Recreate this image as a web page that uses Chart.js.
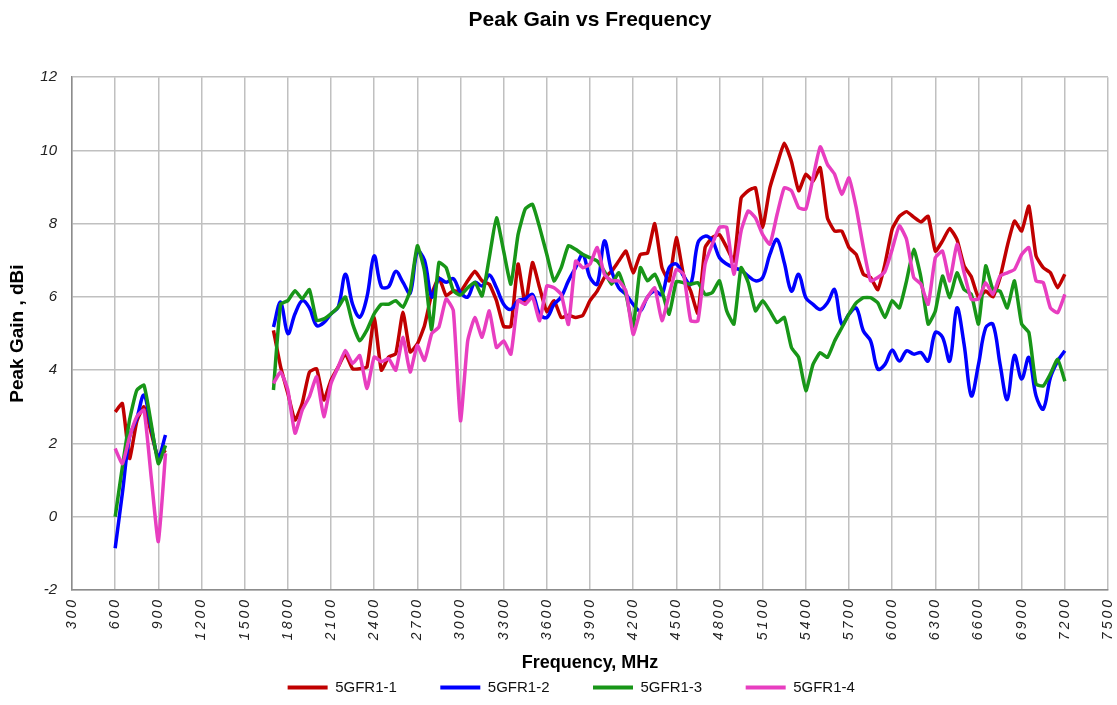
<!DOCTYPE html>
<html>
<head>
<meta charset="utf-8">
<title>Peak Gain vs Frequency</title>
<script src="https://cdn.jsdelivr.net/npm/chart.js@4.4.0/dist/chart.umd.min.js"></script>
<style>
  body { margin: 0; background: #fff; }
  #wrap { width: 1117px; height: 705px; }
</style>
</head>
<body>
<div id="wrap"><canvas id="gainChart" width="1117" height="705"></canvas></div>
<script>
// frequencies, MHz
var lowFreq = [600, 650, 700, 750, 800, 850, 900, 950];
var highFreq = [
    1700, 1750, 1800, 1850, 1900, 1950, 2000, 2050, 2100, 2150, 2200, 2250, 2300, 2350, 2400, 2450, 2500, 2550, 2600, 2650, 2700, 2750, 2800, 2850, 2900, 2950,
    3000, 3050, 3100, 3150, 3200, 3250, 3300, 3350, 3400, 3450, 3500, 3550, 3600, 3650, 3700, 3750, 3800, 3850, 3900, 3950, 4000, 4050, 4100, 4150, 4200, 4250, 4300, 4350, 4400, 4450,
    4500, 4550, 4600, 4650, 4700, 4750, 4800, 4850, 4900, 4950, 5000, 5050, 5100, 5150, 5200, 5250, 5300, 5350, 5400, 5450, 5500, 5550, 5600, 5650, 5700, 5750, 5800, 5850, 5900, 5950,
    6000, 6050, 6100, 6150, 6200, 6250, 6300, 6350, 6400, 6450, 6500, 6550, 6600, 6650, 6700, 6750, 6800, 6850, 6900, 6950, 7000, 7050, 7100, 7150, 7200
];

// peak gain, dBi
var gain1Low = [2.86, 3.09, 1.59, 2.6, 3.0, 2.3, 1.6, 1.82];
var gain2Low = [-0.86, 0.64, 2.18, 2.68, 3.32, 2.45, 1.64, 2.23];
var gain3Low = [0.0, 1.36, 2.64, 3.45, 3.59, 2.55, 1.45, 1.95];
var gain4Low = [1.86, 1.45, 2.18, 2.73, 2.91, 1.1, -0.68, 1.73];

var gain1High = [
    5.09, 4.09, 3.37, 2.64, 3.1, 3.95, 4.04, 3.19, 3.73, 4.09, 4.45, 4.04, 4.04, 4.09, 5.45, 4.0, 4.36, 4.45, 5.58, 4.5, 4.72, 5.22, 6.08, 6.53, 6.04, 6.17,
    6.15, 6.44, 6.7, 6.44, 6.35, 5.9, 5.2, 5.2, 6.9, 5.8, 6.94, 6.25, 5.6, 5.9, 5.44, 5.5, 5.44, 5.5, 5.9, 6.16, 6.53, 6.7, 6.98, 7.25, 6.66, 7.16, 7.2, 8.0, 6.8, 6.44,
    7.62, 6.6, 6.16, 5.55, 7.35, 7.62, 7.7, 7.35, 6.98, 8.7, 8.9, 8.98, 7.9, 8.98, 9.62, 10.2, 9.7, 8.9, 9.35, 9.16, 9.53, 8.16, 7.8, 7.8, 7.35, 7.16, 6.62, 6.53, 6.2, 6.9,
    7.85, 8.2, 8.33, 8.18, 8.05, 8.2, 7.25, 7.53, 7.87, 7.57, 6.85, 6.55, 5.98, 6.16, 6.0, 6.53, 7.39, 8.07, 7.8, 8.48, 7.12, 6.8, 6.66, 6.25, 6.62
];
var gain2High = [
    5.18, 5.86, 5.0, 5.54, 5.9, 5.7, 5.22, 5.3, 5.54, 5.72, 6.62, 5.8, 5.45, 6.0, 7.12, 6.28, 6.28, 6.7, 6.4, 6.1, 7.25, 7.0, 6.0, 6.5, 6.4, 6.5,
    6.12, 6.0, 6.4, 6.3, 6.6, 6.25, 5.8, 5.66, 5.9, 5.95, 6.07, 5.53, 5.44, 5.8, 6.0, 6.44, 6.8, 7.16, 6.53, 6.35, 7.53, 6.7, 6.25, 6.07, 5.8, 5.62, 6.0, 6.16, 6.07, 6.8,
    6.9, 6.57, 6.35, 7.48, 7.66, 7.55, 7.07, 6.9, 6.8, 6.73, 6.57, 6.44, 6.53, 7.16, 7.57, 6.94, 6.16, 6.62, 5.98, 5.8, 5.66, 5.84, 6.2, 5.25, 5.53, 5.7, 5.07, 4.8, 4.03, 4.16,
    4.55, 4.25, 4.53, 4.44, 4.48, 4.25, 5.03, 4.9, 4.25, 5.7, 4.7, 3.3, 4.16, 5.16, 5.26, 4.16, 3.2, 4.4, 3.76, 4.35, 3.3, 2.94, 3.8, 4.25, 4.53
];
var gain3High = [
    3.46, 5.8, 5.9, 6.17, 5.95, 6.2, 5.36, 5.4, 5.54, 5.72, 6.0, 5.27, 4.8, 5.1, 5.54, 5.8, 5.8, 5.9, 5.72, 6.17, 7.4, 6.7, 5.1, 6.94, 6.8, 6.17,
    6.05, 6.25, 6.4, 6.03, 7.07, 8.16, 7.25, 6.35, 7.7, 8.4, 8.53, 7.9, 7.16, 6.44, 6.8, 7.4, 7.3, 7.16, 7.07, 6.98, 6.7, 6.35, 6.66, 6.07, 5.2, 6.8, 6.44, 6.62, 6.16, 5.53,
    6.42, 6.39, 6.35, 6.39, 6.07, 6.12, 6.44, 5.62, 5.26, 6.8, 6.39, 5.62, 5.9, 5.62, 5.3, 5.44, 4.62, 4.35, 3.44, 4.16, 4.48, 4.35, 4.8, 5.16, 5.53, 5.84, 5.98, 5.98, 5.84, 5.44,
    5.9, 5.7, 6.44, 7.3, 6.53, 5.26, 5.62, 6.57, 5.98, 6.66, 6.2, 6.07, 5.26, 6.85, 6.2, 6.16, 5.7, 6.44, 5.26, 5.03, 3.62, 3.57, 3.9, 4.3, 3.7
];
var gain4High = [
    3.64, 3.95, 3.46, 2.28, 2.91, 3.28, 3.82, 2.73, 3.64, 4.09, 4.54, 4.18, 4.4, 3.5, 4.36, 4.23, 4.32, 4.0, 4.9, 3.95, 4.68, 4.27, 5.0, 5.18, 5.95, 5.63,
    2.62, 4.8, 5.44, 4.9, 5.62, 4.62, 4.8, 4.44, 5.9, 5.8, 6.0, 5.35, 6.3, 6.25, 6.07, 5.25, 6.98, 6.8, 6.9, 7.35, 6.62, 6.44, 6.44, 6.16, 4.98, 5.62, 6.0, 6.25, 5.35, 6.07,
    6.75, 6.62, 5.35, 5.35, 6.9, 7.44, 7.9, 7.9, 6.62, 7.8, 8.35, 8.16, 7.7, 7.44, 8.25, 8.98, 8.9, 8.44, 8.4, 9.25, 10.1, 9.62, 9.35, 8.8, 9.25, 8.44, 7.35, 6.44, 6.53, 6.7,
    7.3, 7.94, 7.57, 6.53, 6.35, 5.8, 7.07, 7.25, 6.44, 7.44, 6.66, 5.94, 5.94, 6.39, 6.07, 6.57, 6.66, 6.75, 7.16, 7.35, 6.44, 6.39, 5.7, 5.57, 6.07
];

var seriesNames = ['5GFR1-1', '5GFR1-2', '5GFR1-3', '5GFR1-4'];
var seriesColors = ['rgb(192, 0, 0)', 'rgb(0, 0, 255)', 'rgb(24, 150, 24)', 'rgb(232, 62, 192)'];
var seriesLow = [gain1Low, gain2Low, gain3Low, gain4Low];
var seriesHigh = [gain1High, gain2High, gain3High, gain4High];

var fontFamily = '"Liberation Sans", Arial, sans-serif';

// low band + a null point (break in the line) + high band
function toPoints(low, high) {
    var pts = [];
    for (var i = 0; i < lowFreq.length; i++) {
        pts.push({ x: lowFreq[i], y: low[i] });
    }
    pts.push({ x: 1300, y: null });
    for (var j = 0; j < highFreq.length; j++) {
        pts.push({ x: highFreq[j], y: high[j] });
    }
    return pts;
}

var datasets = [];
for (var k = 0; k < seriesNames.length; k++) {
    datasets.push({
        label: seriesNames[k],
        data: toPoints(seriesLow[k], seriesHigh[k]),
        borderColor: seriesColors[k],
        backgroundColor: seriesColors[k],
        borderWidth: 3.5,
        pointRadius: 0,
        tension: k == 1 ? 0.35 : 0.15,
        spanGaps: false,
        order: 3 - k
    });
}

// the x tick labels in the original are spaced out a little
var spacedTicks = {
    id: 'spacedTicks',
    afterLayout: function (chart) {
        var sc = chart.scales.x;
        if (sc._spaced) return;
        var orig = sc.drawLabels;
        sc.drawLabels = function (area) {
            var ctx = chart.ctx;
            var prev = ctx.letterSpacing;
            ctx.letterSpacing = '3px';
            orig.call(this, area);
            ctx.letterSpacing = prev || '0px';
        };
        sc._spaced = true;
    }
};

const config = {
    type: 'line',
    data: { datasets: datasets },
    options: {
        responsive: false,
        animation: false,
        layout: { padding: { left: 4, right: 9, top: 0, bottom: 0 } },
        plugins: {
            tooltip: { enabled: false },
            title: {
                display: true,
                fullSize: false,
                text: 'Peak Gain vs Frequency',
                color: '#000',
                font: { family: fontFamily, size: 21, weight: 'bold' },
                padding: { top: 8, bottom: 44 }
            },
            legend: {
                position: 'bottom',
                fullSize: false,
                labels: {
                    color: '#111',
                    font: { family: fontFamily, size: 15 },
                    boxWidth: 40,
                    boxHeight: 4,
                    padding: 6,
                    sort: function (a, b) { return a.datasetIndex - b.datasetIndex; },
                    generateLabels: function (chart) {
                        var items = Chart.defaults.plugins.legend.labels.generateLabels(chart);
                        items.forEach(function (it) {
                            it.text = it.text + '\u2003\u2003\u2002';
                            it.lineWidth = 0;
                        });
                        return items;
                    }
                }
            }
        },
        scales: {
            x: {
                type: 'linear',
                min: 300,
                max: 7500,
                afterFit: function (scale) {
                    scale.height = 84;
                    scale.paddingRight = 0;
                },
                border: { color: '#8c8c8c', width: 1.5 },
                grid: { color: '#c0c0c0', lineWidth: 1.5, drawTicks: false },
                ticks: {
                    stepSize: 300,
                    autoSkip: false,
                    minRotation: 90,
                    maxRotation: 90,
                    padding: 7,
                    color: '#222',
                    font: { family: fontFamily, size: 14, style: 'italic' },
                    callback: function (v) { return String(v); }
                },
                title: {
                    display: true,
                    text: 'Frequency, MHz',
                    color: '#000',
                    font: { family: fontFamily, size: 18, weight: 'bold' },
                    padding: { top: 0, bottom: 0 }
                }
            },
            y: {
                min: -2,
                max: 12,
                afterFit: function (scale) { scale.width = 68; },
                border: { color: '#8c8c8c', width: 1.5 },
                grid: { color: '#c0c0c0', lineWidth: 1.5, drawTicks: false },
                ticks: {
                    stepSize: 2,
                    padding: 15,
                    color: '#222',
                    font: { family: fontFamily, size: 15, style: 'italic' }
                },
                title: {
                    display: true,
                    text: 'Peak Gain , dBi',
                    color: '#000',
                    font: { family: fontFamily, size: 19, weight: 'bold' },
                    padding: { top: 2, bottom: 0 }
                }
            }
        }
    },
    plugins: [spacedTicks]
};

var gainChart = new Chart(document.getElementById('gainChart'), config);
</script>
</body>
</html>
